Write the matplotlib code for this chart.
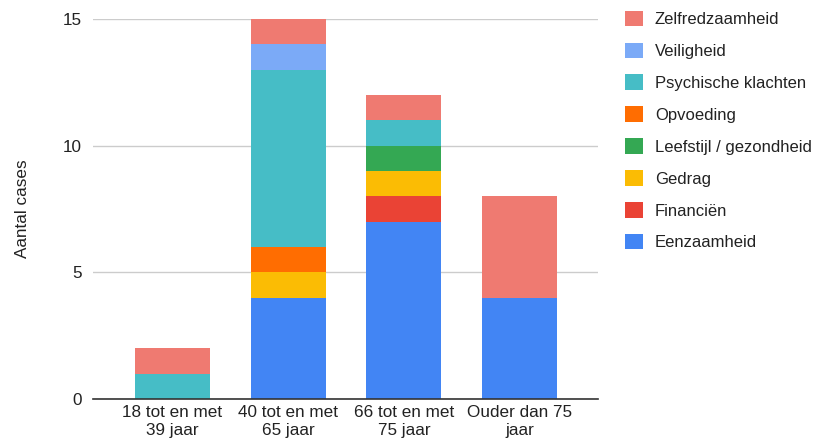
import numpy as np
import matplotlib
matplotlib.use("Agg")
import matplotlib.pyplot as plt

plt.rcParams['font.family'] = ['Liberation Sans', 'DejaVu Sans']

# categories and series, bottom of stack first
categories = ['18 tot en met\n39 jaar', '40 tot en met\n65 jaar',
              '66 tot en met\n75 jaar', 'Ouder dan 75\njaar']
series_names = ['Eenzaamheid', 'Financiën', 'Gedrag', 'Leefstijl / gezondheid',
                'Opvoeding', 'Psychische klachten', 'Veiligheid', 'Zelfredzaamheid']
eenzaamheid = [0, 4, 7, 4]
financien = [0, 0, 1, 0]
gedrag = [0, 1, 1, 0]
leefstijl = [0, 0, 1, 0]
opvoeding = [0, 1, 0, 0]
psychisch = [1, 7, 1, 0]
veiligheid = [0, 1, 0, 0]
zelfredzaam = [1, 1, 1, 4]
colors = ['#4285F4', '#EA4335', '#FBBC04', '#34A853',
          '#FF6D01', '#46BDC6', '#7BAAF7', '#EF7A71']

values = [eenzaamheid, financien, gedrag, leefstijl,
          opvoeding, psychisch, veiligheid, zelfredzaam]

fig = plt.figure(figsize=(8.24, 4.42), dpi=100)
ax = fig.add_axes([0.1129, 0.0973, 0.6129, 0.8597])

x = np.arange(len(categories))
bottom = np.zeros(len(categories))
handles = []
for name, vals, col in zip(series_names, values, colors):
    b = ax.bar(x, vals, width=0.647, bottom=bottom, color=col, label=name,
               edgecolor='none', zorder=3)
    handles.append(b)
    bottom += np.array(vals)

ax.set_xlim(-0.687, 3.679)
ax.set_ylim(0, 15)
ax.set_yticks([0, 5, 10, 15])
ax.set_xticks(x)
ax.set_xticklabels(categories, fontsize=12.3, color='#222222', linespacing=1.25)
ax.tick_params(axis='y', labelsize=12.3, labelcolor='#222222', length=0, pad=8)
ax.tick_params(axis='x', length=0, pad=4)
ax.grid(axis='y', color='#cccccc', linewidth=1, zorder=0)
for s in ['top', 'right', 'left']:
    ax.spines[s].set_visible(False)
ax.spines['bottom'].set_color('#333333')
ax.spines['bottom'].set_linewidth(1.2)
ax.spines['bottom'].set_zorder(4)
ax.set_ylabel('Aantal cases', fontsize=12.3, color='#222222', labelpad=24)

fig.legend(handles[::-1], series_names[::-1], loc='upper left',
           bbox_to_anchor=(0.759, 0.976), frameon=False, fontsize=12,
           handlelength=1.05, handleheight=1.05, handletextpad=0.72,
           labelspacing=0.93, borderpad=0, borderaxespad=0, labelcolor='#222222')

fig.savefig('out.png', dpi=100)
